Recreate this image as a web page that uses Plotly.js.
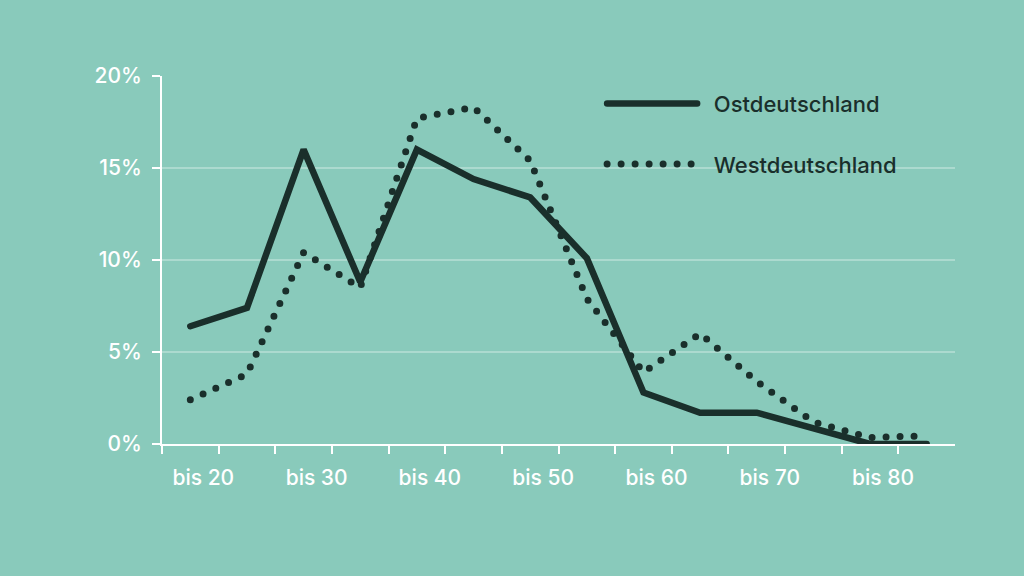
<!DOCTYPE html>
<html>
<head>
<meta charset="utf-8">
<script src="https://cdn.plot.ly/plotly-3.0.1.min.js"></script>
<style>
  html, body { margin: 0; padding: 0; background: #89cabb; }
  #chart { width: 1024px; height: 576px; }
  /* round caps turn the zero-length dashes into dots */
  .js-line { stroke-linecap: round; }
</style>
</head>
<body>
<div id="chart"></div>
<script>
// age brackets (only every other one gets a label on the axis)
var ageGroups = ["bis 20", "bis 25", "bis 30", "bis 35", "bis 40", "bis 45", "bis 50",
                 "bis 55", "bis 60", "bis 65", "bis 70", "bis 75", "bis 80", "bis 85"];
var ostValues  = [6.4, 7.4, 16.0, 8.8, 16.0, 14.4, 13.4, 10.1, 2.8, 1.7, 1.7, 0.85, 0, 0];
var westValues = [2.4, 3.8, 10.4, 8.5, 17.7, 18.3, 15.4, 7.9, 3.9, 6.0, 3.4, 1.2, 0.35, 0.45];
var tickLabels = ["bis 20", "bis 30", "bis 40", "bis 50", "bis 60", "bis 70", "bis 80"];

var dark = '#1a2f2b';
var fontFam = 'Inter, "Open Sans", sans-serif';
var gap = '\u00a0\u00a0';

// position of each bracket on the axis
var xPos = ageGroups.map(function (d, i) { return i; });
var labelPos = [], boundaryTicks = [];
ageGroups.forEach(function (d, i) {
    if (tickLabels.indexOf(d) >= 0) labelPos.push(i);
    boundaryTicks.push(i - 0.5);
});

var ost = {
    x: xPos,
    y: ostValues,
    text: ageGroups,
    mode: 'lines',
    line: { color: dark, width: 6.5 },
    name: gap + 'Ostdeutschland',
    legendgroup: 'ost'
};
var west = {
    x: xPos,
    y: westValues,
    text: ageGroups,
    mode: 'lines',
    line: { color: dark, width: 7, dash: '0px,14px' },
    name: gap + 'Westdeutschland',
    legendgroup: 'west'
};

var layout = {
    width: 1024,
    height: 576,
    paper_bgcolor: '#89cabb',
    plot_bgcolor: '#89cabb',
    margin: { l: 162, r: 69, t: 76, b: 132 },
    font: { family: fontFam, color: '#ffffff', size: 21, weight: 500 },
    showlegend: true,
    legend: {
        x: 0.555, y: 0.982, xanchor: 'left', yanchor: 'top',
        bgcolor: 'rgba(0,0,0,0)',
        font: { family: fontFam, color: dark, size: 22, weight: 500 },
        itemwidth: 90,
        tracegroupgap: 29
    },
    xaxis: {
        range: [-0.5, 13.5],
        tickmode: 'array',
        tickvals: labelPos,
        ticktext: tickLabels,
        tickangle: 0,
        ticks: '',
        ticklabelshift: 13,
        ticklabelstandoff: 14,
        minor: {
            tickmode: 'array',
            tickvals: boundaryTicks.slice(0, 14),
            ticks: 'outside',
            ticklen: 8,
            tickwidth: 2,
            tickcolor: '#ffffff',
            showgrid: false
        },
        showline: true,
        linecolor: '#ffffff',
        linewidth: 2,
        showgrid: false,
        zeroline: false,
        fixedrange: true
    },
    yaxis: {
        range: [0, 20],
        tickmode: 'linear',
        tick0: 0,
        dtick: 5,
        ticksuffix: '%',
        ticks: 'outside',
        ticklen: 8,
        tickwidth: 2,
        tickcolor: '#ffffff',
        ticklabelstandoff: 6,
        showline: true,
        linecolor: '#ffffff',
        linewidth: 2,
        gridcolor: 'rgba(255,255,255,0.3)',
        gridwidth: 2,
        zeroline: false,
        fixedrange: true
    }
};

Plotly.newPlot('chart', [ost, west], layout, { displayModeBar: false, staticPlot: true });
</script>
</body>
</html>
